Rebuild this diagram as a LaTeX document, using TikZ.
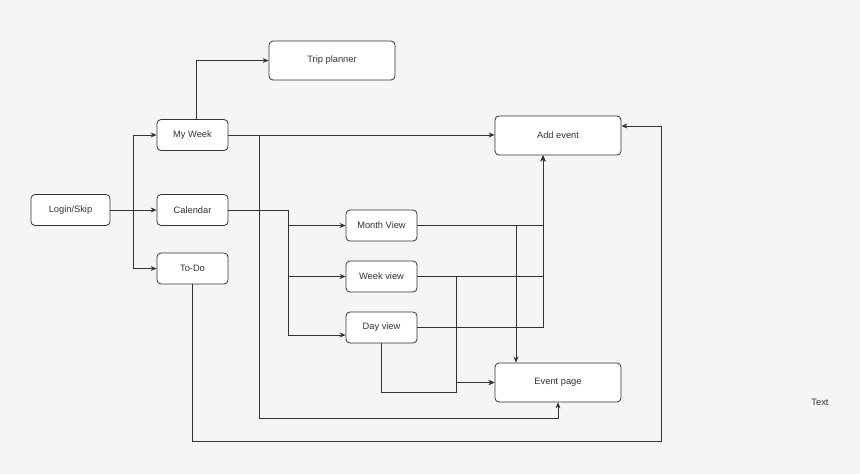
\documentclass[tikz,border=0pt]{standalone}
\usepackage{fontspec}
\setmainfont{Liberation Sans}
\usetikzlibrary{arrows.meta,calc}
\definecolor{bg}{HTML}{F5F5F5}
\definecolor{ink}{HTML}{333333}
\tikzset{
  box/.style={draw=ink, fill=white, rounded corners=4pt, line width=0.8pt,
    text=ink, font=\fontsize{9.3pt}{11pt}\selectfont, inner sep=0pt},
  sbox/.style={box, minimum width=71pt, minimum height=31pt},
  bbox/.style={box, minimum width=126pt, minimum height=39pt},
  arr/.style={draw=ink, line width=0.8pt, -{Stealth[length=6pt,width=5pt]}},
  ln/.style={draw=ink, line width=0.8pt}
}
\begin{document}
\begin{tikzpicture}[x=1pt,y=-1pt]
\fill[bg] (0,0) rectangle (860,474);
\useasboundingbox (0,0) rectangle (860,474);

\node[sbox, minimum width=79pt] (login) at (70.5,210) {Login/Skip};
\node[sbox] (mywk) at (192.5,135) {My Week};
\node[sbox] (cal) at (192.5,210) {Calendar};
\node[sbox] (todo) at (192.5,268.5) {To-Do};
\node[bbox] (trip) at (332,60.5) {Trip planner};
\node[bbox] (add) at (558,135.5) {Add event};
\node[sbox] (month) at (381.5,225.5) {Month View};
\node[sbox] (weekv) at (381.5,276.5) {Week view};
\node[sbox] (dayv) at (381.5,327.5) {Day view};
\node[bbox] (event) at (558,382.5) {Event page};
\node[text=ink, font=\fontsize{9.3pt}{11pt}\selectfont] (txt) at (820,402) {Text};

\coordinate (lb) at (133,210);
\coordinate (c1) at (259,418);
\coordinate (c2) at (661,441);
\coordinate (cb) at (288,210);
\coordinate (m) at (456,382.5);
\coordinate (dd) at (456,392);

% Login/Skip
\draw[arr] (login.east) -- (lb) |- (mywk.west);
\draw[arr] (login.east) -- (cal.west);
\draw[arr] (lb) |- (todo.west);

% My Week
\draw[arr] ([xshift=3.5pt]mywk.north) |- (trip.west);
\draw[arr] (mywk.east) -- (mywk.east -| add.west);
\draw[arr] (mywk.east) -| (c1) -| (event.south);

% To-Do
\draw[arr] (todo.south) |- (c2) |- ([yshift=9.5pt]add.east);

% Calendar
\draw[arr] (cal.east) -- (cb) |- (month.west);
\draw[arr] (cb) |- (weekv.west);
\draw[arr] (cb) |- ([yshift=-7.5pt]dayv.west);

% Month View
\draw[arr] (month.east) -| ([xshift=-15pt]add.south);
\draw[arr] (month.east) -| ([xshift=-42pt]event.north);

% Week view
\draw[arr] (weekv.east) -| ([xshift=-15pt]add.south);
\draw[arr] (weekv.east) -| (m) -- (event.west);

% Day view
\draw[arr] (dayv.east) -| ([xshift=-15pt]add.south);
\draw[arr] (dayv.south) |- (dd) -- (m) -- (event.west);
\end{tikzpicture}
\end{document}
